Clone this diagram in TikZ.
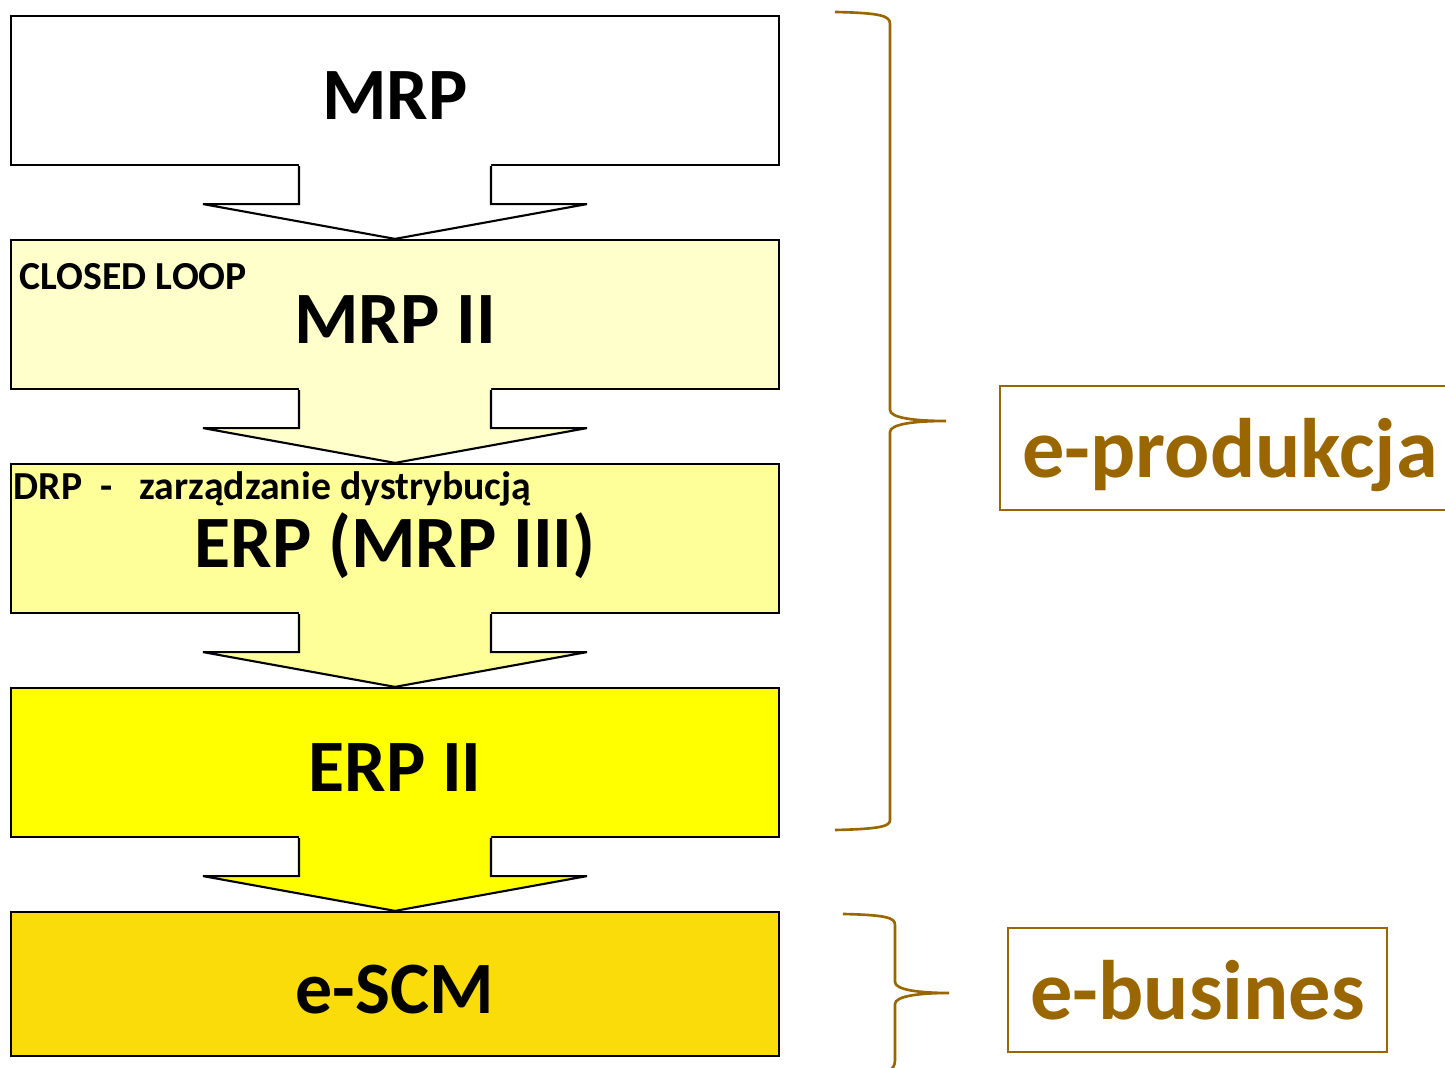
\documentclass[tikz,border=0pt]{standalone}
\usepackage{fontspec}
\setmainfont{Carlito}
\usetikzlibrary{calc}
\definecolor{lvla}{HTML}{FFFFCC}
\definecolor{lvlb}{HTML}{FFFF99}
\definecolor{lvlc}{HTML}{FFFF00}
\definecolor{lvld}{HTML}{F9DC09}
\definecolor{brown}{HTML}{996600}

\begin{document}
\begin{tikzpicture}[x=0.01cm,y=-0.01cm,
  lvl/.style={draw,line width=0.6pt,minimum width=7.68cm,minimum height=1.49cm,fill=#1,
              text height=0.58cm,text depth=0cm,font=\bfseries\fontsize{21}{25}\selectfont},lvl/.default=white,
  note/.style={anchor=base west,inner sep=0pt,font=\bfseries\fontsize{11.3}{13}\selectfont},
  tag/.style={draw=brown,line width=0.6pt,text=brown,minimum height=1.24cm,text depth=0cm,
              font=\bfseries\fontsize{24}{28}\selectfont},
  curly/.style={draw=brown,line width=0.75pt}]
  \useasboundingbox (0,0) rectangle (1445,1068);
  \clip (0,0) rectangle (1445,1068);
  \node[lvl] (mrp) at (395,90.5) {MRP};
  \node[lvl=lvla] (mrpii) at (395,314.5) {MRP II};
  \node[lvl=lvlb] (erp) at (395,538.5) {ERP (MRP III)};
  \node[lvl=lvlc] (erpii) at (395,762.5) {ERP II};
  \node[lvl=lvld,minimum height=1.44cm] (escm) at (395,984) {e-SCM};
  \node[note] (loop) at (19,290) {CLOSED LOOP};
  \node[note] (drp) at (13,500) {DRP\ \ -\ \ \ zarządzanie dystrybucją};
  \foreach \a/\b/\c in {mrp/mrpii/white,mrpii/erp/lvla,erp/erpii/lvlb,erpii/escm/lvlc} {
    \fill[\c] ($(\a.south)+(-96,-4)$) -- ($(\a.south)+(-96,38)$) -- ($(\a.south)+(-192,38)$) -- (\b.north)
      -- ($(\a.south)+(192,38)$) -- ($(\a.south)+(96,38)$) -- ($(\a.south)+(96,-4)$) -- cycle;
    \draw[line width=0.6pt] ($(\a.south)+(-96,0)$) -- ($(\a.south)+(-96,38)$) -- ($(\a.south)+(-192,38)$) -- (\b.north)
      -- ($(\a.south)+(192,38)$) -- ($(\a.south)+(96,38)$) -- ($(\a.south)+(96,0)$);
  }
  \node[tag,minimum width=4.6cm] (eprod) at (1230,448) {e-produkcja};
  \node[tag,minimum width=3.79cm] (ebiz) at (1197.5,990) {e-busines};
  % klamry
  \draw[curly] (835,12) .. controls (882,13) and (890,16) .. (890,24) -- (890,410)
    .. controls (890,418) and (915,421) .. (946,421) .. controls (915,421) and (890,424) .. (890,432)
    -- (890,820) .. controls (890,826) and (882,829) .. (835,830);
  \draw[curly] (843,914) .. controls (888,915) and (895,918) .. (895,925) -- (895,982)
    .. controls (895,990) and (920,993) .. (949,993) .. controls (920,993) and (895,996) .. (895,1004)
    -- (895,1060) .. controls (895,1066) and (893,1068) .. (888,1072);
\end{tikzpicture}
\end{document}
